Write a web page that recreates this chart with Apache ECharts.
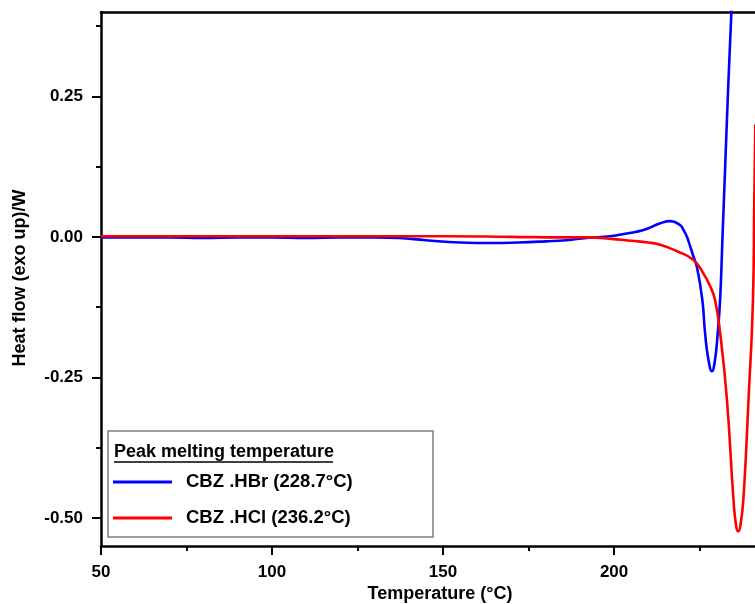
<!DOCTYPE html>
<html>
<head>
<meta charset="utf-8">
<script src="https://cdn.jsdelivr.net/npm/echarts@6/dist/echarts.min.js"></script>
<style>
    html, body { margin: 0; padding: 0; background: #fff; }
    #chart { width: 755px; height: 604px; }
</style>
</head>
<body>
<div id="chart"></div>
<script>
// 温度 (°C) 与热流数据
const hbrTemp = [50, 60, 70, 80, 90, 100, 110, 120, 130, 137, 145, 155, 164, 172, 180, 186, 192, 198.8, 203.7, 208.6, 213.5, 216.4, 219.3, 220.3, 221.3, 222.3, 223.2, 224.2, 225.8, 226.6, 227.6, 228.6, 229.5, 230.3, 231, 231.7, 232.5, 233.4, 234.3, 235]
const hbrFlow = [-0.001, -0.001, -0.001, -0.002, -0.001, -0.001, -0.002, -0.001, -0.001, -0.002, -0.006, -0.010, -0.011, -0.010, -0.008, -0.006, -0.002, 0.001, 0.006, 0.012, 0.024, 0.028, 0.021, 0.012, 0.0, -0.018, -0.035, -0.053, -0.112, -0.171, -0.219, -0.239, -0.219, -0.171, -0.112, 0.0, 0.128, 0.272, 0.4, 0.512]

const hclTemp = [50, 70, 90, 110, 130, 150, 170, 185, 192, 200, 205, 210, 213.5, 218.6, 223.2, 226.1, 228.1, 229.5, 231, 233, 234.9, 235.7, 236.3, 236.9, 237.8, 239.3, 240.6, 241.0, 241.3]
const hclFlow = [0.001, 0.001, 0.001, 0.001, 0.001, 0.001, 0.0, -0.001, -0.001, -0.004, -0.007, -0.010, -0.014, -0.026, -0.041, -0.065, -0.088, -0.112, -0.171, -0.29, -0.467, -0.515, -0.524, -0.515, -0.467, -0.29, -0.112, 0.066, 0.2]

const seriesNames = ['CBZ .HBr (228.7°C)', 'CBZ .HCl (236.2°C)']
const legendTitle = 'Peak melting temperature'

const xTicks = [50, 100, 150, 200]
const xMinorTicks = [75, 125, 175, 225]
const yTicks = [-0.5, -0.25, 0, 0.25]
const yMinorTicks = [-0.375, -0.125, 0.125, 0.375]

const X_MIN = 50, X_MAX = 241.2
const Y_MIN = -0.55, Y_MAX = 0.4

const font = 'Liberation Sans, Arial, sans-serif'

function pairs(xs, ys) {
    return xs.map((x, i) => [x, ys[i]])
}

const gridBox = { left: 101, right: 0, top: 12, bottom: 58 }

const myChart = echarts.init(document.getElementById('chart'), null, { renderer: 'canvas' })

const option = {
    animation: false,
    backgroundColor: '#fff',
    grid: [
        { ...gridBox },
        { ...gridBox } // 只画次刻度
    ],
    xAxis: [
        {
            type: 'value', gridIndex: 0, position: 'bottom',
            min: X_MIN, max: X_MAX,
            splitLine: { show: false },
            axisLine: { show: true, onZero: false, lineStyle: { color: '#000', width: 2.5 } },
            axisTick: { show: true, inside: false, length: 9, customValues: xTicks, lineStyle: { color: '#000', width: 2 } },
            axisLabel: {
                customValues: xTicks, margin: 18,
                color: '#000', fontFamily: font, fontWeight: 'bold', fontSize: 17
            }
        },
        {
            type: 'value', gridIndex: 0, position: 'top',
            min: X_MIN, max: X_MAX,
            splitLine: { show: false },
            axisLine: { show: true, onZero: false, lineStyle: { color: '#000', width: 2.5 } },
            axisTick: { show: false },
            axisLabel: { show: false }
        },
        {
            type: 'value', gridIndex: 1, position: 'bottom',
            min: X_MIN, max: X_MAX,
            splitLine: { show: false },
            axisLine: { show: false, onZero: false },
            axisTick: { show: true, inside: false, length: 5, customValues: xMinorTicks, lineStyle: { color: '#000', width: 2 } },
            axisLabel: { show: false }
        }
    ],
    yAxis: [
        {
            type: 'value', gridIndex: 0, position: 'left',
            min: Y_MIN, max: Y_MAX,
            splitLine: { show: false },
            axisLine: { show: true, onZero: false, lineStyle: { color: '#000', width: 2.5 } },
            axisTick: { show: true, inside: false, length: 9, customValues: yTicks, lineStyle: { color: '#000', width: 2 } },
            axisLabel: {
                customValues: yTicks, margin: 18,
                color: '#000', fontFamily: font, fontWeight: 'bold', fontSize: 17,
                formatter: v => v.toFixed(2)
            }
        },
        {
            type: 'value', gridIndex: 1, position: 'left',
            min: Y_MIN, max: Y_MAX,
            splitLine: { show: false },
            axisLine: { show: false, onZero: false },
            axisTick: { show: true, inside: false, length: 5, customValues: yMinorTicks, lineStyle: { color: '#000', width: 2 } },
            axisLabel: { show: false }
        }
    ],
    legend: {
        orient: 'vertical',
        left: 113,
        top: 472,
        padding: 0,
        z: 60,
        icon: 'rect',
        itemWidth: 59,
        itemHeight: 3,
        itemGap: 16,
        data: seriesNames,
        textStyle: {
            color: '#000', fontFamily: font, fontWeight: 'bold', fontSize: 18.5,
            lineHeight: 20, padding: [0, 0, 0, 9]
        }
    },
    graphic: [
        {
            type: 'rect', z: 50,
            shape: { x: 108, y: 431, width: 325, height: 106 },
            style: { fill: '#fff', stroke: '#808080', lineWidth: 1.5 }
        },
        {
            type: 'text', z: 51, x: 114, y: 452,
            style: {
                text: legendTitle, fill: '#000', font: 'bold 18px ' + font,
                textAlign: 'left', textVerticalAlign: 'middle'
            }
        },
        {
            type: 'line', z: 51,
            shape: { x1: 114, y1: 462, x2: 333, y2: 462 },
            style: { stroke: '#000', lineWidth: 1.5 }
        },
        {
            type: 'text', x: 20, y: 278, rotation: Math.PI / 2,
            style: {
                text: 'Heat flow (exo up)/W', fill: '#000', font: 'bold 18px ' + font,
                textAlign: 'center', textVerticalAlign: 'middle'
            }
        },
        {
            type: 'text', x: 440, y: 594,
            style: {
                text: 'Temperature (°C)', fill: '#000', font: 'bold 18px ' + font,
                textAlign: 'center', textVerticalAlign: 'middle'
            }
        }
    ],
    series: [
        {
            name: seriesNames[0], type: 'line',
            xAxisIndex: 0, yAxisIndex: 0,
            data: pairs(hbrTemp, hbrFlow),
            showSymbol: false, symbol: 'none',
            smooth: 0.5,
            clip: true,
            color: '#0000ff',
            lineStyle: { color: '#0000ff', width: 2.6 }
        },
        {
            name: seriesNames[1], type: 'line',
            xAxisIndex: 0, yAxisIndex: 0,
            data: pairs(hclTemp, hclFlow),
            showSymbol: false, symbol: 'none',
            smooth: 0.5,
            clip: true,
            color: '#ff0000',
            lineStyle: { color: '#ff0000', width: 2.6 }
        }
    ]
}

myChart.setOption(option)
</script>
</body>
</html>
